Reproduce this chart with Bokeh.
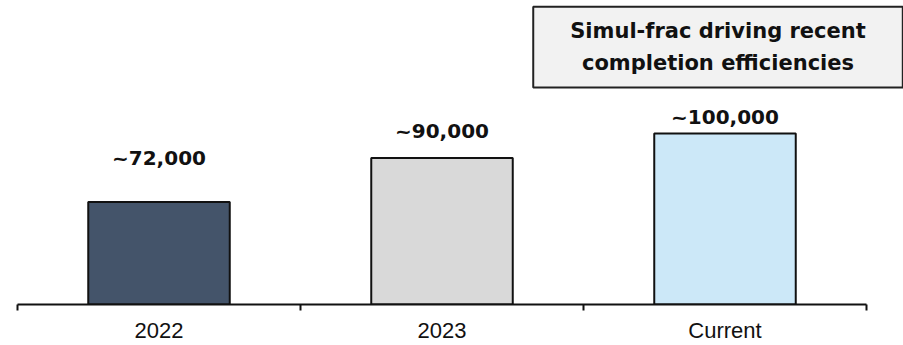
from bokeh.plotting import figure
from bokeh.models import ColumnDataSource, FixedTicker, Label, Range1d
from bokeh.core.properties import value
from bokeh.embed import file_html
from bokeh.resources import INLINE

# Completions per period
categories = ["2022", "2023", "Current"]
completions = [72000, 90000, 100000]
bar_colors = ["#44546a", "#d9d9d9", "#cce8f8"]
note = "Simul-frac driving recent\ncompletion efficiencies"

BASE = 30000
n = len(categories)
positions = [i + 0.5 for i in range(n)]
label_text = [f"~{v:,}" for v in completions]
# value labels ride on a compressed scale above the bars
label_y = [46900 + 0.6 * v for v in completions]

src = ColumnDataSource(dict(x=positions, top=completions, color=bar_colors,
                            ly=label_y, lt=label_text))

# frame runs to the right edge so the callout box is not clipped;
# the axis itself stops at the last category boundary
p = figure(width=903, height=345, output_backend="svg", toolbar_location=None,
           x_range=Range1d(0, n * 886 / 849), y_range=Range1d(BASE, 154500),
           y_axis_location=None, min_border_left=17, min_border_right=0,
           min_border_top=0, min_border_bottom=41)
p.outline_line_color = None
p.xgrid.grid_line_color = None
p.ygrid.grid_line_color = None
p.background_fill_color = "white"
p.border_fill_color = "white"

p.vbar(x="x", top="top", bottom=BASE, width=0.5, fill_color="color",
       line_color="#111111", line_width=2, source=src)

p.text(x="x", y="ly", text="lt", source=src, text_align="center",
       text_baseline="alphabetic", text_font=value("DejaVu Sans"),
       text_font_style="bold", text_font_size="20px", text_color="#111111")

ax = p.xaxis[0]
ax.bounds = (0, n)
ax.ticker = FixedTicker(ticks=positions, minor_ticks=list(range(n + 1)))
ax.major_label_overrides = {pos: cat for pos, cat in zip(positions, categories)}
ax.major_tick_line_color = None
ax.major_tick_out = 0
ax.major_tick_in = 0
ax.minor_tick_line_color = "#111111"
ax.minor_tick_line_width = 2
ax.minor_tick_out = 6
ax.minor_tick_in = 0
ax.axis_line_color = "#111111"
ax.axis_line_width = 2
ax.major_label_text_font = "Liberation Sans"
ax.major_label_text_font_size = "22px"
ax.major_label_text_color = "#111111"
ax.major_label_standoff = 7

p.add_layout(Label(x=2.4753, y=135400, text=note, text_align="center",
                   text_baseline="middle", text_font="DejaVu Sans",
                   text_font_style="bold", text_font_size="21px",
                   text_color="#111111", text_line_height=1.33,
                   background_fill_color="#f2f2f2",
                   border_line_color="#222222", border_line_width=2,
                   padding=dict(left=37, right=37, top=12, bottom=13)))

open("out.html", "w").write(file_html(p, INLINE))
